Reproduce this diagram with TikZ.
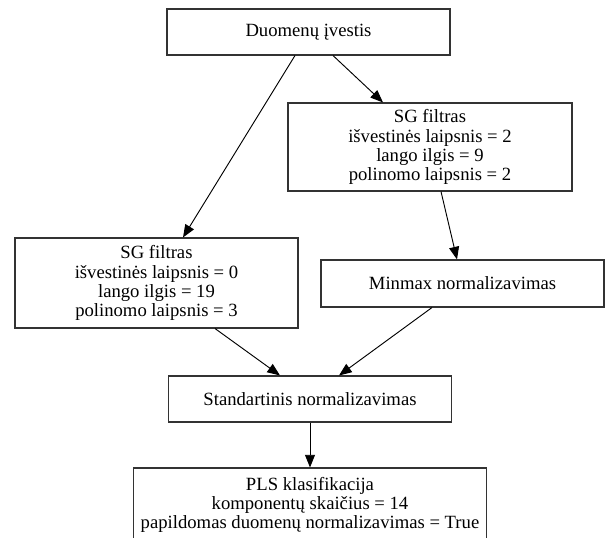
\documentclass[tikz,border=0pt]{standalone}
\usepackage{fontspec}
\setmainfont{Liberation Serif}
\usetikzlibrary{calc,arrows.meta}
\begin{document}
\begin{tikzpicture}[x=0.75pt,y=-0.75pt,
  box/.style={draw=black!80,line width=0.8pt,rectangle,align=center,inner sep=0pt,
    font=\fontsize{14}{14.3}\selectfont},
  arr/.style={draw=black,line width=0.7pt,-{Triangle[length=9.5pt,width=7.5pt]}}]
\useasboundingbox (0,0) rectangle (613,538);
\clip (0,0) rectangle (613,538);

\node[box,minimum width=283*0.75pt,minimum height=46*0.75pt] (top) at (308.5,32) {Duomenų įvestis};
\node[box,minimum width=284*0.75pt,minimum height=88*0.75pt] (sgr) at (430,147)
  {SG filtras\\išvestinės laipsnis = 2\\lango ilgis = 9\\polinomo laipsnis = 2};
\node[box,minimum width=283*0.75pt,minimum height=90*0.75pt] (sgl) at (156.5,283)
  {SG filtras\\išvestinės laipsnis = 0\\lango ilgis = 19\\polinomo laipsnis = 3};
\node[box,minimum width=283*0.75pt,minimum height=47*0.75pt] (mm) at (462.5,283.5) {Minmax normalizavimas};
\node[box,minimum width=283*0.75pt,minimum height=46*0.75pt] (std) at (310,399) {Standartinis normalizavimas};
\node[box,minimum width=353*0.75pt,minimum height=74*0.75pt] (pls) at (310,505)
  {PLS klasifikacija\\komponentų skaičius = 14\\papildomas duomenų normalizavimas = True};

\draw[arr] ($(top.south)+(-13.5,0)$) -- ($(sgl.north)+(26.5,0)$);
\draw[arr] ($(top.south)+(24.5,0)$) -- ($(sgr.north)+(-47,0)$);
\draw[arr] ($(sgr.south)+(11,0)$) -- ($(mm.north)+(-5.5,0)$);
\draw[arr] ($(sgl.south)+(58.5,0)$) -- ($(std.north)+(-30,0)$);
\draw[arr] ($(mm.south)+(-30.5,0)$) -- ($(std.north)+(29,0)$);
\draw[arr] (std.south) -- (pls.north);
\end{tikzpicture}
\end{document}
